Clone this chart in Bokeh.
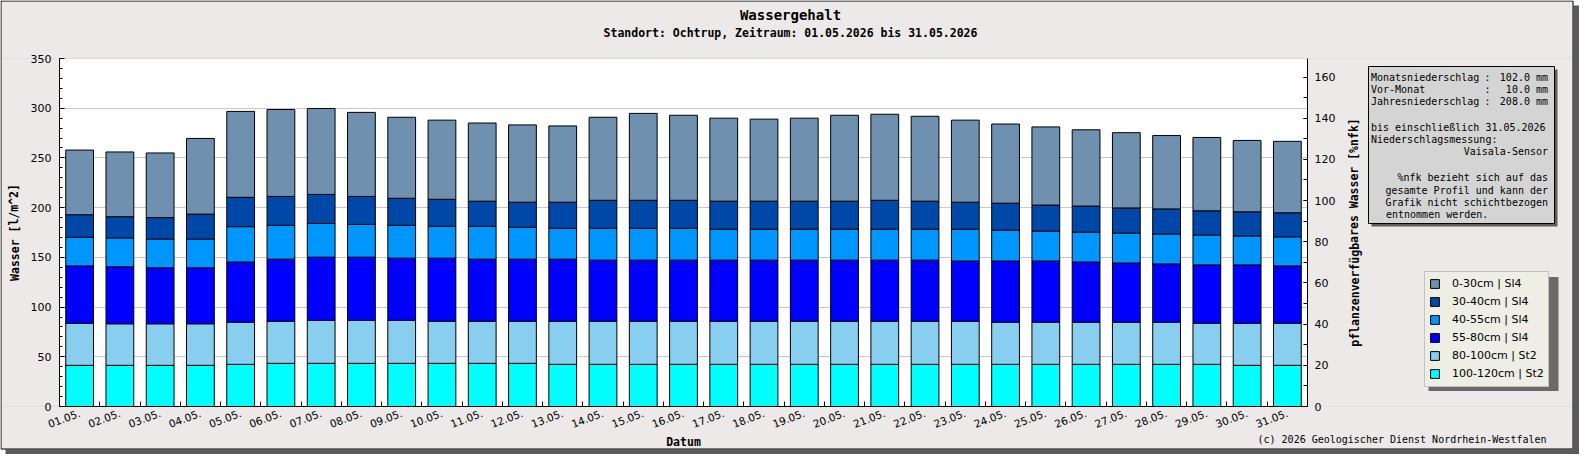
from bokeh.plotting import figure
from bokeh.models import (ColumnDataSource, Range1d, LinearAxis, FixedTicker,
                          SingleIntervalTicker, Legend, LegendItem, Label,
                          BoxAnnotation)
from bokeh.embed import file_html
from bokeh.resources import INLINE

# Tage im Mai 2026 (Achsenbeschriftung).
day_labels = [
    "01.05.", "02.05.", "03.05.", "04.05.", "05.05.", "06.05.", "07.05.",
    "08.05.", "09.05.", "10.05.", "11.05.", "12.05.", "13.05.", "14.05.",
    "15.05.", "16.05.", "17.05.", "18.05.", "19.05.", "20.05.", "21.05.",
    "22.05.", "23.05.", "24.05.", "25.05.", "26.05.", "27.05.", "28.05.",
    "29.05.", "30.05.", "31.05.",
]
day_no = list(range(1, len(day_labels) + 1))

# Wassergehalt je Schicht [l/m^2], von unten nach oben gestapelt.
w_100_120 = [41.4, 41.4, 41.4, 41.4, 42.4, 43.4, 43.4, 43.4, 43.4, 43.4, 43.4,
             43.4, 42.4, 42.4, 42.4, 42.4, 42.4, 42.4, 42.4, 42.4, 42.4, 42.4,
             42.4, 42.4, 42.4, 42.4, 42.4, 42.4, 42.4, 41.4, 41.4]
w_80_100 = [42.4, 41.8, 41.8, 41.8, 42.4, 42.4, 43.3, 43.3, 43.3, 42.4, 42.4,
            42.4, 43.4, 43.4, 43.4, 43.4, 43.4, 43.4, 43.4, 43.4, 43.4, 43.4,
            43.4, 42.4, 42.4, 42.4, 42.4, 42.4, 41.4, 42.4, 42.4]
w_55_80 = [57.6, 57.3, 56.3, 56.3, 60.5, 62.4, 63.5, 63.5, 62.5, 63.4, 62.4,
           62.4, 62.4, 61.4, 61.4, 61.4, 61.4, 61.4, 61.4, 61.4, 61.4, 61.4,
           60.5, 61.5, 61.5, 60.5, 59.5, 58.6, 58.6, 58.6, 57.6]
w_40_55 = [28.8, 29.1, 28.8, 28.8, 35.6, 34.0, 33.9, 33.0, 33.0, 32.0, 33.0,
           32.1, 31.1, 32.1, 32.1, 32.1, 31.1, 31.1, 31.1, 31.1, 31.1, 31.1,
           32.0, 31.0, 30.1, 30.1, 30.1, 30.1, 30.1, 29.1, 29.2]
w_30_40 = [22.7, 21.3, 21.7, 25.2, 29.5, 29.1, 29.2, 28.1, 27.2, 27.2, 25.3,
           25.2, 26.2, 28.1, 28.1, 28.1, 28.2, 28.2, 28.2, 28.2, 29.1, 28.2,
           27.2, 27.2, 26.2, 26.2, 25.3, 25.2, 24.3, 24.3, 24.2]
w_0_30 = [65.0, 65.1, 65.0, 76.1, 86.4, 87.4, 86.4, 84.5, 81.5, 79.6, 78.6,
          77.7, 76.7, 83.5, 87.4, 85.5, 83.5, 82.5, 83.5, 86.4, 86.5, 85.4,
          82.5, 79.6, 78.6, 76.7, 75.7, 73.8, 73.8, 71.8, 71.9]

layer_keys = ["l100_120", "l80_100", "l55_80", "l40_55", "l30_40", "l0_30"]
layer_names = ["100-120cm | St2", "80-100cm | St2", "55-80cm | Sl4",
               "40-55cm | Sl4", "30-40cm | Sl4", "0-30cm | Sl4"]
layer_colors = ["#00FFFF", "#88CEEE", "#0000FF", "#0096FF", "#0048A8", "#7090B0"]

# Infobox
niederschlag = [("Monatsniederschlag", "102.0 mm"),
                ("Vor-Monat", "10.0 mm"),
                ("Jahresniederschlag", "208.0 mm")]
stand = "31.05.2026"
sensor = "Vaisala-Sensor"

Y_MAX, NFK_MAX = 350, 169

BG = "#ECE9E8"
W, H = 1579, 454
PL, PR, PT, PB = 59, 1307, 58, 406   # Diagrammbereich in Pixeln
MONO = "DejaVu Sans Mono"
SANS = "DejaVu Sans"

# Der Frame fuellt die ganze Flaeche; die Achsen liegen fest im Frame,
# damit Titel, Infobox und Legende nicht abgeschnitten werden.
kx = (PR - PL) / 31.0
ky = (PB - PT) / Y_MAX
kn = (PB - PT) / NFK_MAX
x_range = Range1d(0.5 - PL / kx, 31.5 + (W - PR) / kx)
y_range = Range1d(-(H - PB) / ky, Y_MAX + PT / ky)
nfk_range = Range1d(-(H - PB) / kn, NFK_MAX + PT / kn)


def sx(x):
    return x


def sy(y):
    return H - y


source = ColumnDataSource(data={
    "x": day_no,
    "l100_120": w_100_120, "l80_100": w_80_100, "l55_80": w_55_80,
    "l40_55": w_40_55, "l30_40": w_30_40, "l0_30": w_0_30,
})

p = figure(width=W, height=H, x_range=x_range, y_range=y_range,
           tools="", toolbar_location=None, output_backend="svg",
           min_border=0, min_border_left=0, min_border_right=0,
           min_border_top=0, min_border_bottom=0,
           background_fill_color="white", border_fill_color=BG,
           outline_line_color=None)
p.extra_y_ranges = {"nfk": nfk_range}

p.xgrid.visible = False
p.ygrid.grid_line_color = "#C8C8C8"

xax = p.xaxis[0]
xax.fixed_location = 0
xax.bounds = (0.5, 31.5)
xax.ticker = FixedTicker(ticks=day_no, minor_ticks=[d + 0.5 for d in day_no[:-1]])
xax.major_label_overrides = {d: lab for d, lab in zip(day_no, day_labels)}
xax.major_tick_in = 0
xax.major_tick_out = 0
xax.minor_tick_in = 5
xax.minor_tick_out = 0
xax.major_label_orientation = 0.36
xax.major_label_standoff = 6
xax.major_label_text_font = SANS
xax.major_label_text_font_size = "10.5px"
xax.major_label_text_color = "black"
xax.axis_line_color = "black"
xax.minor_tick_line_color = "black"

yax = p.yaxis[0]
yax.fixed_location = 0.5
yax.bounds = (0, Y_MAX)
yax.ticker = SingleIntervalTicker(interval=50, num_minor_ticks=5)
yax.major_tick_in = 5
yax.major_tick_out = 0
yax.minor_tick_in = 3
yax.minor_tick_out = 0
yax.major_label_standoff = 8
yax.major_label_text_font = SANS
yax.major_label_text_font_size = "11px"
yax.major_label_text_color = "black"

rax = LinearAxis(y_range_name="nfk", fixed_location=31.5, bounds=(0, NFK_MAX),
                 ticker=SingleIntervalTicker(interval=20, num_minor_ticks=2),
                 major_tick_in=4, major_tick_out=0, minor_tick_in=4, minor_tick_out=0,
                 major_label_standoff=7, major_label_text_font=SANS,
                 major_label_text_font_size="11px", major_label_text_color="black")
p.add_layout(rax, "right")


def box(l, t, r, b, fill, line=None, level="annotation"):
    p.add_layout(BoxAnnotation(
        left=sx(l), right=sx(r), top=sy(t), bottom=sy(b),
        left_units="screen", right_units="screen", top_units="screen", bottom_units="screen",
        fill_color=fill, fill_alpha=1 if fill else 0,
        line_color=line, line_alpha=1 if line else 0, line_width=1, level=level))


def text(x, y, s, size, bold=False, align="left", angle=0, font=MONO):
    p.add_layout(Label(
        x=sx(x), y=sy(y), x_units="screen", y_units="screen", text=s,
        text_font=font, text_font_size=f"{size}px",
        text_font_style="bold" if bold else "normal", text_color="black",
        text_align=align, text_baseline="middle", angle=angle))


# grauer Hintergrund rund um den Diagrammbereich (ueber den Gitterlinien)
box(0, 0, W, PT, BG, level="underlay")
box(0, PB, W, H, BG, level="underlay")
box(0, PT, PL, PB, BG, level="underlay")
box(PR, PT, W, PB, BG, level="underlay")

bars = p.vbar_stack(layer_keys, x="x", width=0.69, source=source,
                    fill_color=layer_colors, line_color="black", line_width=1)

# Titel, Achsentitel
text(790, 14, "Wassergehalt", 14, bold=True, align="center")
text(790, 32.5, "Standort: Ochtrup, Zeitraum: 01.05.2026 bis 31.05.2026", 11.5,
     bold=True, align="center")
text(14, (PT + PB) / 2, "Wasser [l/m^2]", 11.5, bold=True, align="center", angle=1.5708)
text(1354, (PT + PB) / 2, "pflanzenverfügbares Wasser [%nfk]", 11.5, bold=True,
     align="center", angle=1.5708)
text((PL + PR) / 2, 441, "Datum", 11.5, bold=True, align="center")
text(1546, 439, "(c) 2026 Geologischer Dienst Nordrhein-Westfalen", 10, align="right")

# Infobox mit Schatten
box(1371, 69, 1557, 226, "#5E5E5E")
box(1368, 66, 1554, 223, "#D4D4D4", "black")
for i, (name, val) in enumerate(niederschlag):
    yy = 76.6 + i * 12.4
    text(1370.5, yy, name, 10)
    text(1484, yy, ":", 10)
    text(1547.5, yy, val, 10, align="right")
text(1370.5, 126.5, f"bis einschließlich {stand}", 10)
text(1370.5, 138.8, "Niederschlagsmessung:", 10)
text(1547.5, 151.3, sensor, 10, align="right")
text(1547.5, 177.4, "%nfk bezieht sich auf das", 10, align="right")
text(1547.5, 189.5, "gesamte Profil und kann der", 10, align="right")
text(1547.5, 201.6, "Grafik nicht schichtbezogen", 10, align="right")
text(1385.5, 213.7, "entnommen werden.", 10)

# Legende mit Schatten
box(1428, 276.5, 1558, 390.5, "#6A6A6A")
items = [LegendItem(label=n, renderers=[r])
         for n, r in reversed(list(zip(layer_names, bars)))]
legend = Legend(items=items, location=(sx(1424), sy(386.5)),
                background_fill_color="#EEEEE4", background_fill_alpha=1,
                border_line_color="#999999", border_line_width=1,
                label_text_font=SANS, label_text_font_size="11px",
                label_text_color="black", glyph_width=11, glyph_height=11,
                label_standoff=12, padding=4, spacing=2, label_height=16, margin=0)
p.add_layout(legend)

# Rahmen und Schatten der Grafik
box(1573, 0, W, H, "white", level="overlay")
box(0, 449, W, H, "white", level="overlay")
box(1573, 5, W, H, "#5A5A5A", level="overlay")
box(5, 449, W, H, "#5A5A5A", level="overlay")
box(0.5, 0.5, 1572.5, 448.5, None, "black", level="overlay")

open("out.html", "w", encoding="utf-8").write(file_html(p, INLINE))
